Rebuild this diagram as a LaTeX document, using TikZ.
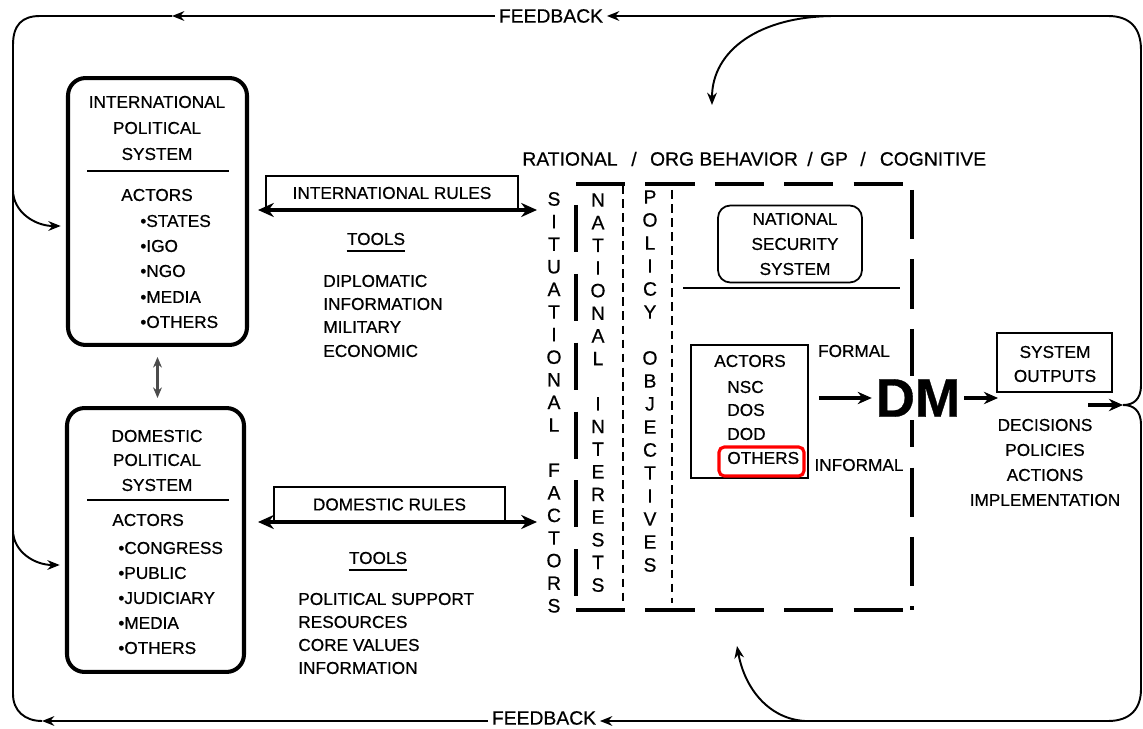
\documentclass[tikz,border=0pt]{standalone}
\usepackage{fontspec}
\setmainfont{Liberation Sans}[FakeBold=0.6]
\usetikzlibrary{positioning,arrows.meta,calc}
\tikzstyle{sysbox} = [draw, line width=2.3pt, rounded corners=10pt]
\tikzstyle{rulebox} = [draw, line width=0.8pt]
\tikzstyle{thinbox} = [draw, line width=1pt]
\tikzstyle{fbarrow} = [line width=1.1pt, -{Stealth[length=7pt,width=5.5pt]}]
\tikzstyle{rulearrow} = [line width=2pt, {Stealth[length=9pt,width=8pt]}-{Stealth[length=9pt,width=8pt]}]
\tikzstyle{bigdash} = [line width=2.8pt, dash pattern=on 28pt off 11.5pt]
\tikzstyle{smalldash} = [line width=1.6pt, dash pattern=on 5pt off 3pt]
\tikzstyle{item} = [anchor=west]
\tikzstyle{big} = [font=\fontsize{11}{12}\selectfont]

\begin{document}
\begin{tikzpicture}[x=0.02cm, y=-0.02cm, font=\fontsize{9.8}{11}\selectfont, inner sep=0pt]
      \useasboundingbox (0,0) rectangle (1143,729);
      %%%%%%%%%%%%%%%%%%%%%%%%%%%%%%%%%%%%%%%
      % feedback loop
      \node (fbtop) at (551,16) [big, inner sep=2pt] {FEEDBACK};
      \node (fbbot) at (544,718) [big, inner sep=2pt] {FEEDBACK};
      \coordinate (tl) at (172,16);
      \coordinate (bl) at (42,721);
      \coordinate (tr) at (1108,16);
      \coordinate (br) at (1108,721);
      \coordinate (brace) at (1123,405);
      \draw[fbarrow] (tr) -- (fbtop);
      \draw[fbarrow] (fbtop) -- (tl);
      \draw[line width=1.1pt] (tl) -- (40,16) .. controls (22,16) and (13,25) .. (13,45) -- (13,694) .. controls (13,711) and (25,721) .. (bl);
      \draw[fbarrow] (fbbot.west |- bl) -- (bl);
      \draw[fbarrow] (br) -- (fbbot.east |- br);
      \draw[line width=1.1pt] (tr) .. controls (1130,16) and (1141,28) .. (1141,50) -- (1141,385) .. controls (1141,400) and (1133,405) .. (brace);
      \draw[line width=1.1pt] (brace) .. controls (1133,405) and (1141,410) .. (1141,425) -- (1141,689) .. controls (1141,709) and (1130,721) .. (br);
      \draw[fbarrow] (835,16) .. controls (760,16) and (712,50) .. (712,105);
      \draw[fbarrow] (805,721) .. controls (770,719) and (745,690) .. (737,646);
      %%%%%%%%%%%%%%%%%%%%%%%%%%%%%%%%%%%%%%%
      % political systems
      \node (ips) at (157.5,211.5) [sysbox, minimum width=3.58cm, minimum height=5.34cm] {};
      \node (dps) at (155.5,540) [sysbox, minimum width=3.54cm, minimum height=5.28cm] {};
      \draw[fbarrow] (13,190) .. controls (13,212) and (35,226) .. ([xshift=-3pt]ips.west |- 0,226);
      \draw[fbarrow] (13,530) .. controls (13,552) and (35,565) .. ([xshift=-3pt]dps.west |- 0,565);
      \draw[line width=1.2pt, black!70, {Stealth[length=6pt,width=5pt]}-{Stealth[length=6pt,width=5pt]}, shorten <=0.2cm, shorten >=0.16cm] (ips.south) -- (ips.south |- dps.north);
      \node (ip1) at (157,102) {INTERNATIONAL};
      \node (ip2) at (157,128) {POLITICAL};
      \node (ip3) at (157,154) {SYSTEM};
      \draw[line width=1pt] (87,171) -- (229,171);
      \node (ipa) at (157,195) {ACTORS};
      \node (ipb1) at (140,221) [item] {•STATES};
      \node (ipb2) at (140,246) [item] {•IGO};
      \node (ipb3) at (140,271) [item] {•NGO};
      \node (ipb4) at (140,297) [item] {•MEDIA};
      \node (ipb5) at (140,322) [item] {•OTHERS};
      \node (dp1) at (157,436) {DOMESTIC};
      \node (dp2) at (157,460) {POLITICAL};
      \node (dp3) at (157,485) {SYSTEM};
      \draw[line width=1pt] (87,500) -- (229,500);
      \node (dpa) at (112,520) [item] {ACTORS};
      \node (dpb1) at (118,548) [item] {•CONGRESS};
      \node (dpb2) at (118,573) [item] {•PUBLIC};
      \node (dpb3) at (118,598) [item] {•JUDICIARY};
      \node (dpb4) at (118,623) [item] {•MEDIA};
      \node (dpb5) at (118,648) [item] {•OTHERS};
      %%%%%%%%%%%%%%%%%%%%%%%%%%%%%%%%%%%%%%%
      % rules and tools
      \node (irules) at (392,193) [rulebox, minimum width=5.04cm, minimum height=0.68cm] {INTERNATIONAL RULES};
      \node (drules) at (389.5,504.5) [rulebox, minimum width=4.62cm, minimum height=0.7cm] {DOMESTIC RULES};
      \coordinate (ir1) at (258,210);
      \coordinate (ir2) at (537,210);
      \coordinate (dr1) at (258,522);
      \coordinate (dr2) at (537,522);
      \draw[rulearrow] (ir1) -- (ir2);
      \draw[rulearrow] (dr1) -- (dr2);
      \node (itools) at (376,239) {TOOLS};
      \draw[line width=1pt] ([yshift=-3pt]itools.south west) -- ([yshift=-3pt]itools.south east);
      \node (it1) at (323,281) [item] {DIPLOMATIC};
      \node (it2) at (323,304) [item] {INFORMATION};
      \node (it3) at (323,327) [item] {MILITARY};
      \node (it4) at (323,351) [item] {ECONOMIC};
      \node (dtools) at (378,558) {TOOLS};
      \draw[line width=1pt] ([yshift=-3pt]dtools.south west) -- ([yshift=-3pt]dtools.south east);
      \node (dt1) at (298,599) [item] {POLITICAL SUPPORT};
      \node (dt2) at (298,622) [item] {RESOURCES};
      \node (dt3) at (298,645) [item] {CORE VALUES};
      \node (dt4) at (298,668) [item] {INFORMATION};
      %%%%%%%%%%%%%%%%%%%%%%%%%%%%%%%%%%%%%%%
      % decision models
      \node (m1) at (570,159) [big] {RATIONAL};
      \node (s1) at (634,159) [big] {/};
      \node (m2) at (724,159) [big] {ORG BEHAVIOR};
      \node (s2) at (810,159) [big] {/};
      \node (m3) at (834,159) [big] {GP};
      \node (s3) at (863,159) [big] {/};
      \node (m4) at (933,159) [big] {COGNITIVE};
      \foreach \ch [count=\i from 0] in {S,I,T,U,A,T,I,O,N,A,L,{},F,A,C,T,O,R,S}
        \node (sf\i) at (554,{199+22.6*\i}) [big] {\ch};
      \foreach \ch [count=\i from 0] in {N,A,T,I,O,N,A,L,{},I,N,T,E,R,E,S,T,S}
        \node (ni\i) at (598,{200+22.65*\i}) [big] {\ch};
      \foreach \ch [count=\i from 0] in {P,O,L,I,C,Y,{},O,B,J,E,C,T,I,V,E,S}
        \node (po\i) at (650,{197+23*\i}) [big] {\ch};
      \draw[smalldash] (623,185) -- (623,603);
      \draw[smalldash] (672,190) -- (672,603);
      \draw[bigdash] (576,184) -- (912,184);
      \draw[bigdash] (912,190) -- (912,610);
      \draw[bigdash] (576,610) -- (908,610);
      \draw[bigdash, dash pattern=on 26.7pt off 12.5pt] (576,205) -- (576,600);
      %%%%%%%%%%%%%%%%%%%%%%%%%%%%%%%%%%%%%%%
      % national security system
      \node (nss) at (790,244) [thinbox, rounded corners=7pt, minimum width=2.88cm, minimum height=1.54cm] {};
      \node (nss1) at (795,219) {NATIONAL};
      \node (nss2) at (795,244) {SECURITY};
      \node (nss3) at (795,269) {SYSTEM};
      \draw[line width=0.9pt] (683,288) -- (900,288);
      \node (act) at (749.5,411.5) [thinbox, minimum width=2.34cm, minimum height=2.66cm] {};
      \node (act0) at (750,361) {ACTORS};
      \node (act1) at (727,387) [item] {NSC};
      \node (act2) at (727,410) [item] {DOS};
      \node (act3) at (727,434) [item] {DOD};
      \node (act4) at (727,458) [item] {OTHERS};
      \node (hl) at (761.5,461.5) [draw=red, line width=1.8pt, rounded corners=3pt, minimum width=1.7cm, minimum height=0.58cm] {};
      \node (formal) at (854,351) {FORMAL};
      \node (informal) at (859,465) {INFORMAL};
      \node (dm) at (918,398) [fill=white, inner sep=2pt, font=\fontsize{31}{31}\selectfont\bfseries] {DM};
      \draw[line width=1.8pt, -{Stealth[length=8pt,width=7pt]}] (act.east |- dm) ++(10,0) -- (dm.west);
      \node (sysout) at (1054.5,362.5) [thinbox, minimum width=2.3cm, minimum height=1.18cm] {};
      \node (so1) at (1055,352) {SYSTEM};
      \node (so2) at (1055,376) {OUTPUTS};
      \draw[line width=1.8pt, -{Stealth[length=8pt,width=7pt]}] (dm.east) -- (998,398);
      \draw[line width=1.8pt, -{Stealth[length=8pt,width=7pt]}] (1088,405) -- (brace);
      \node (out1) at (1045,425) {DECISIONS};
      \node (out2) at (1045,450) {POLICIES};
      \node (out3) at (1045,475) {ACTIONS};
      \node (out4) at (1045,500) {IMPLEMENTATION};
\end{tikzpicture}
\end{document}
